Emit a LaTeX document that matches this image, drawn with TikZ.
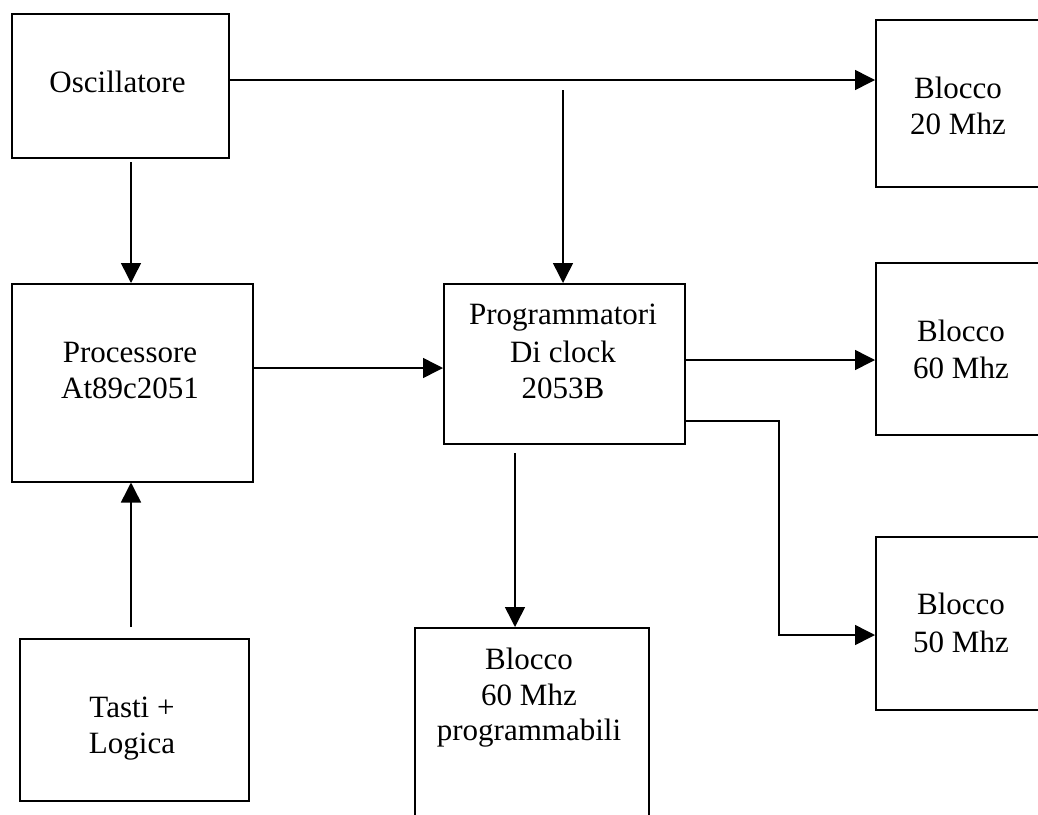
\documentclass[tikz,border=0pt]{standalone}
\usepackage{fontspec}
\setmainfont{Liberation Serif}
\usetikzlibrary{arrows.meta}
\tikzset{
  box/.style={draw, line width=1.5pt, inner sep=0pt, anchor=north west},
  txt/.style={inner sep=0pt, anchor=base, font=\fontsize{31}{37}\selectfont},
  conn/.style={line width=1.5pt},
  arr/.style={line width=1.5pt, -{Triangle[length=20pt,width=20pt]}}
}
\begin{document}
\begin{tikzpicture}[x=1pt,y=-1pt]
\useasboundingbox (0,0) rectangle (1038,814);
\clip (0,0) rectangle (1038,814);
% boxes
\node[box, minimum width=217pt, minimum height=144pt] (osc) at (11,13) {};
\node[box, minimum width=241pt, minimum height=198pt] (proc) at (11,283) {};
\node[box, minimum width=229pt, minimum height=162pt] (tasti) at (19,638) {};
\node[box, minimum width=241pt, minimum height=160pt] (prog) at (443,283) {};
\node[box, minimum width=234pt, minimum height=210pt] (b60p) at (414,627) {};
\node[box, minimum width=180pt, minimum height=167pt] (b20) at (875,19) {};
\node[box, minimum width=180pt, minimum height=172pt] (b60) at (875,262) {};
\node[box, minimum width=180pt, minimum height=173pt] (b50) at (875,536) {};
% texts
\node[txt] (t1) at (117.5,92) {Oscillatore};
\node[txt] (t2) at (130,362) {Processore};
\node[txt] (t3) at (130,398) {At89c2051};
\node[txt] (t4) at (132,717) {Tasti +};
\node[txt] (t5) at (132,753) {Logica};
\node[txt] (t6) at (563,324) {Programmatori};
\node[txt] (t7) at (563,362) {Di clock};
\node[txt] (t8) at (563,398) {2053B};
\node[txt] (t9) at (529,669) {Blocco};
\node[txt] (t10) at (529,705) {60 Mhz};
\node[txt] (t11) at (529,740) {programmabili};
\node[txt] (t12) at (958,98) {Blocco};
\node[txt] (t13) at (958,134) {20 Mhz};
\node[txt] (t14) at (961,341) {Blocco};
\node[txt] (t15) at (961,378) {60 Mhz};
\node[txt] (t16) at (961,614) {Blocco};
\node[txt] (t17) at (961,652) {50 Mhz};
% free ends
\coordinate (oscdown) at (131,162);
\coordinate (tastiup) at (131,627);
\coordinate (progtop) at (563,90);
\coordinate (progbot) at (515,453);
\coordinate (elbow1) at (779,421);
\coordinate (elbow2) at (779,635);
% connectors
\draw[arr] (osc.east |- 0,80) -- (b20.west |- 0,80);
\draw[arr] (oscdown) -- (oscdown |- proc.north);
\draw[arr] (tastiup) -- (tastiup |- proc.south);
\draw[arr] (proc.east |- 0,368) -- (prog.west |- 0,368);
\draw[arr] (progtop) -- (progtop |- prog.north);
\draw[arr] (progbot) -- (progbot |- b60p.north);
\draw[arr] (prog.east |- 0,360) -- (b60.west |- 0,360);
\draw[arr] (prog.east |- elbow1) -- (elbow1) -- (elbow2) -- (b50.west |- elbow2);
\end{tikzpicture}
\end{document}
